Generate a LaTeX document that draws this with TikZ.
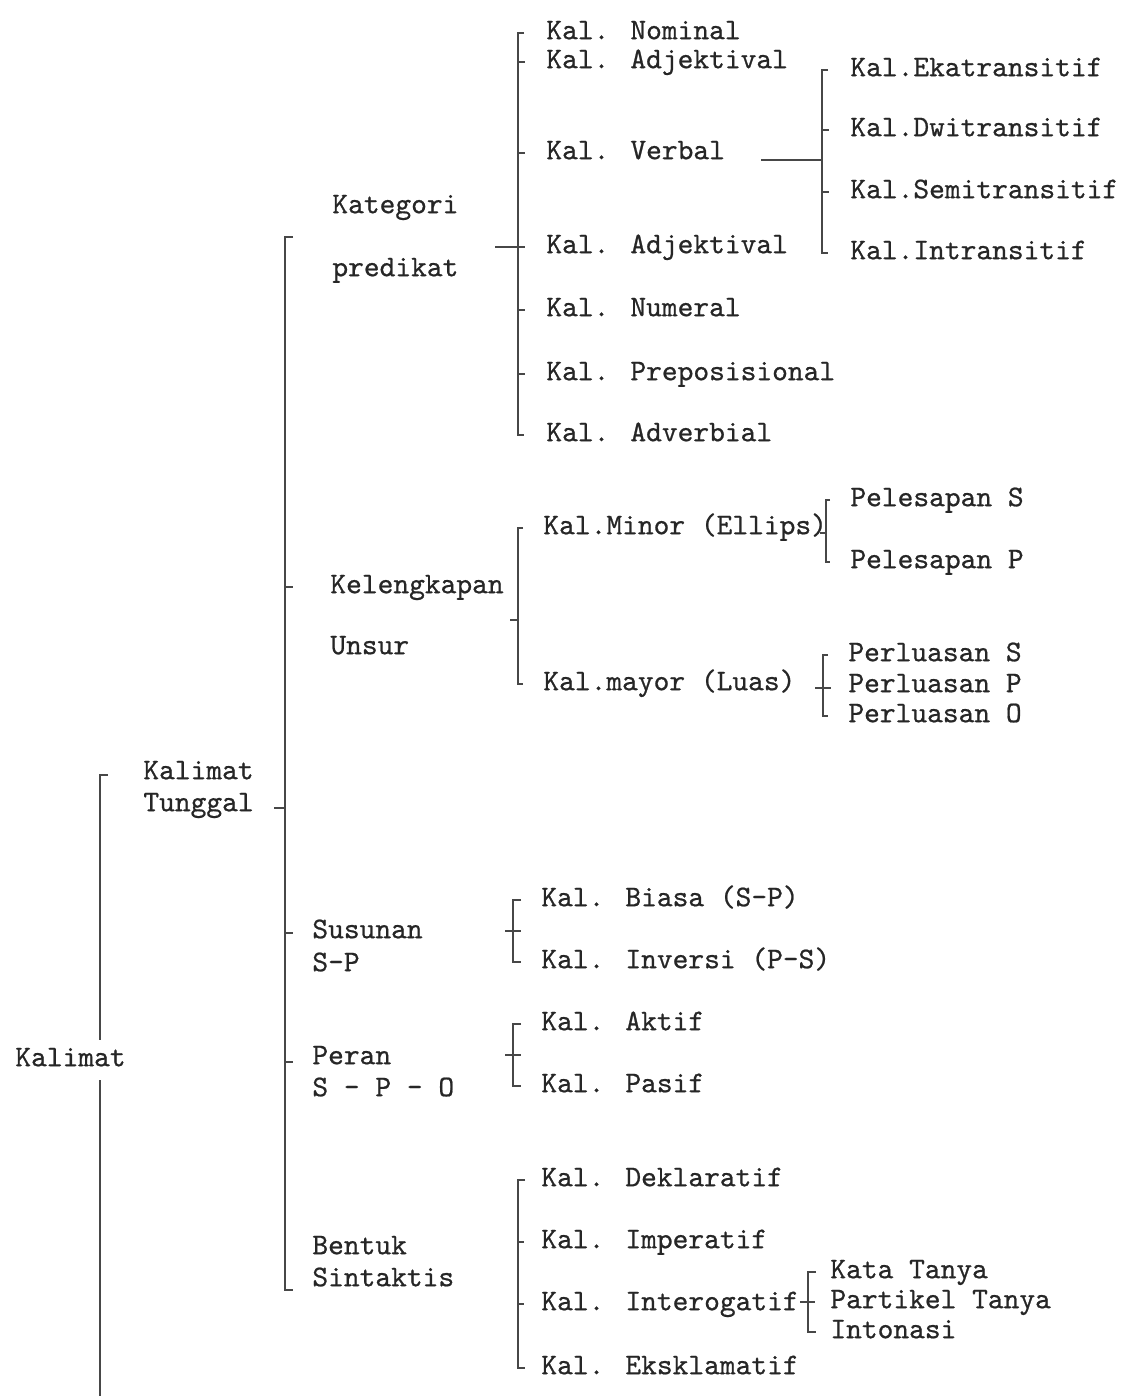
\documentclass[tikz,border=0pt]{standalone}
\usepackage{fontspec}
\newfontfamily\typer{lmmono10-regular.otf}[FakeBold=0.7]
\begin{document}
\begin{tikzpicture}[x=0.5pt,y=-0.5pt,
  lbl/.style={anchor=west,inner sep=0pt,text height=0.62em,text depth=0pt,
              text=black!85,font=\fontsize{15}{16}\selectfont\typer},
  br/.style={draw=black!72,line width=0.9pt},
  root/.style={lbl,fill=white,inner ysep=7pt}]
\useasboundingbox (0,0) rectangle (1124,1396);

% bracket columns
\coordinate (b0) at (100,0);
\coordinate (b1) at (285,0);
\coordinate (bK) at (518,0);
\coordinate (bV) at (822,0);
\coordinate (bL) at (518,0);
\coordinate (bMi) at (826,0);
\coordinate (bMa) at (823,0);
\coordinate (bS) at (513,0);
\coordinate (bP) at (513,0);
\coordinate (bB) at (518,0);
\coordinate (bI) at (808,0);

% ---------- labels ----------
\node[lbl] (kt1) at (143,773) {Kalimat};
\node[lbl] (kt2) at (143,805) {Tunggal};

\node[lbl] (kat1) at (332,207) {Kategori};
\node[lbl] (kat2) at (332,270) {predikat};
\node[lbl] (kel1) at (330,587) {Kelengkapan};
\node[lbl] (kel2) at (330,648) {Unsur};
\node[lbl] (sus1) at (312,932) {Susunan};
\node[lbl] (sus2) at (312,965) {S-P};
\node[lbl] (per1) at (312,1058) {Peran};
\node[lbl] (per2) at (312,1090) {S - P - O};
\node[lbl] (ben1) at (312,1248) {Bentuk};
\node[lbl] (ben2) at (312,1280) {Sintaktis};

\node[lbl] (nom)  at (546,33)  {Kal. Nominal};
\node[lbl] (adj1) at (546,62)  {Kal. Adjektival};
\node[lbl] (verb) at (546,153) {Kal. Verbal};
\node[lbl] (adj2) at (546,247) {Kal. Adjektival};
\node[lbl] (num)  at (546,310) {Kal. Numeral};
\node[lbl] (prep) at (546,374) {Kal. Preposisional};
\node[lbl] (adv)  at (546,435) {Kal. Adverbial};

\node[lbl] (eka)  at (850,70)  {Kal.Ekatransitif};
\node[lbl] (dwi)  at (850,130) {Kal.Dwitransitif};
\node[lbl] (semi) at (850,192) {Kal.Semitransitif};
\node[lbl] (intr) at (850,253) {Kal.Intransitif};

\node[lbl] (minor) at (543,528) {Kal.Minor (Ellips)};
\node[lbl] (mayor) at (543,684) {Kal.mayor (Luas)};
\node[lbl] (pls)  at (850,500) {Pelesapan S};
\node[lbl] (plp)  at (850,562) {Pelesapan P};
\node[lbl] (pls2) at (848,655) {Perluasan S};
\node[lbl] (plp2) at (848,686) {Perluasan P};
\node[lbl] (plo2) at (848,716) {Perluasan O};

\node[lbl] (biasa) at (541,900)  {Kal. Biasa (S-P)};
\node[lbl] (inv)   at (541,962)  {Kal. Inversi (P-S)};
\node[lbl] (aktif) at (541,1024) {Kal. Aktif};
\node[lbl] (pasif) at (541,1086) {Kal. Pasif};

\node[lbl] (dek)   at (541,1180) {Kal. Deklaratif};
\node[lbl] (imp)   at (541,1242) {Kal. Imperatif};
\node[lbl] (inter) at (541,1304) {Kal. Interogatif};
\node[lbl] (eks)   at (541,1368) {Kal. Eksklamatif};
\node[lbl] (kata)  at (830,1272) {Kata Tanya};
\node[lbl] (part)  at (830,1302) {Partikel Tanya};
\node[lbl] (inton) at (830,1332) {Intonasi};

% ---------- root bracket ----------
\coordinate (r0) at (100,775);
\coordinate (rEnd) at (100,1396);
\draw[br] ([xshift=4pt]r0) -- (r0) -- (rEnd);
\node[root] (kal) at (15,1060) {Kalimat};

% ---------- Kalimat Tunggal bracket ----------
\coordinate (t1) at (285,237);
\coordinate (t2) at (285,1290);
\draw[br] ([xshift=4pt]t1) -- (t1) -- (t2) -- ([xshift=4pt]t2);
\draw[br] ([xshift=10pt,yshift=-1.5pt]kt2.east) -- ([yshift=-1.5pt]kt2.east -| b1);
\draw[br] (kel1.west -| b1) -- ++(8,0);
\draw[br] ([yshift=-0.5pt]sus1.west -| b1) -- ++(8,0);
\draw[br] ([yshift=-2pt]per1.west -| b1) -- ++(8,0);

% ---------- Kategori predikat ----------
\coordinate (kS) at (495,247);
\draw[br] ([xshift=-11pt]nom.west) -- (nom.west -| bK) -- (adv.west -| bK) -- ([xshift=-11pt]adv.west);
\draw[br] (kS) -- ([xshift=3.5pt]kS -| bK);
\foreach \n in {adj1,verb,num,prep}
  \draw[br] (\n.west -| bK) -- ++(7,0);

% Kal. Verbal branch
\draw[br] ([xshift=18pt,yshift=-3.5pt]verb.east) -- ([yshift=-3.5pt]verb.east -| bV);
\draw[br] ([xshift=-11pt]eka.west) -- (eka.west -| bV) -- (intr.west -| bV) -- ([xshift=-11pt]intr.west);
\foreach \n in {dwi,semi}
  \draw[br] (\n.west -| bV) -- ++(7,0);

% ---------- Kelengkapan Unsur ----------
\coordinate (lS) at (510,620);
\draw[br] ([xshift=-10pt]minor.west) -- (minor.west -| bL) -- (mayor.west -| bL) -- ([xshift=-10pt]mayor.west);
\draw[br] (lS) -- (lS -| bL);

\coordinate (miS) at (820,533);
\draw[br] ([xshift=-10pt]pls.west) -- (pls.west -| bMi) -- (plp.west -| bMi) -- ([xshift=-10pt]plp.west);
\draw[br] (miS) -- (miS -| bMi);

\coordinate (maS) at (815,688);
\draw[br] ([xshift=-10pt]pls2.west) -- (pls2.west -| bMa) -- (plo2.west -| bMa) -- ([xshift=-10pt]plo2.west);
\draw[br] (maS) -- ([xshift=4pt]maS -| bMa);

% ---------- Susunan S-P ----------
\coordinate (sS) at (505,931);
\draw[br] ([xshift=-10pt]biasa.west) -- (biasa.west -| bS) -- (inv.west -| bS) -- ([xshift=-10pt]inv.west);
\draw[br] (sS) -- ([xshift=4pt]sS -| bS);

% ---------- Peran S-P-O ----------
\coordinate (pS) at (505,1055);
\draw[br] ([xshift=-10pt]aktif.west) -- (aktif.west -| bP) -- (pasif.west -| bP) -- ([xshift=-10pt]pasif.west);
\draw[br] (pS) -- ([xshift=4pt]pS -| bP);

% ---------- Bentuk Sintaktis ----------
\draw[br] ([xshift=-8pt]dek.west) -- (dek.west -| bB) -- (eks.west -| bB) -- ([xshift=-8pt]eks.west);
\foreach \n in {imp,inter}
  \draw[br] (\n.west -| bB) -- ++(6,0);

\coordinate (iS) at (800,1302);
\draw[br] ([xshift=-7pt]kata.west) -- (kata.west -| bI) -- (inton.west -| bI) -- ([xshift=-7pt]inton.west);
\draw[br] (iS) -- ([xshift=3.5pt]iS -| bI);
\end{tikzpicture}
\end{document}
